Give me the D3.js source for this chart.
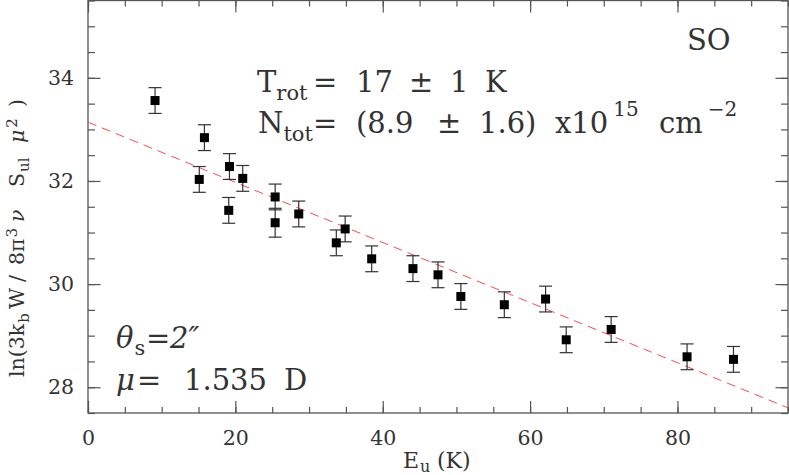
<!DOCTYPE html>
<html>
<head>
<meta charset="utf-8">
<script src="https://cdn.jsdelivr.net/npm/d3@7"></script>
<style>
  html, body { margin: 0; padding: 0; background: #fff; }
  svg text { font-family: "DejaVu Serif", "Liberation Serif", serif; fill: #333; }
</style>
</head>
<body>
<svg id="chart" width="789" height="475"></svg>
<script>
// rotation diagram, SO
const energy  = [9.1, 15.8, 15.1, 19.2, 21.0, 25.4, 19.1, 25.4, 28.6, 33.7, 34.9,
                 38.5, 44.1, 47.5, 50.6, 56.5, 62.1, 64.9, 71.0, 81.3, 87.6];
const lnValue = [33.56, 32.84, 32.03, 32.28, 32.05, 31.69, 31.43, 31.19, 31.36, 30.80, 31.07,
                 30.49, 30.30, 30.18, 29.76, 29.60, 29.71, 28.92, 29.12, 28.59, 28.54];
const lnError = [0.25, 0.25, 0.25, 0.25, 0.25, 0.25, 0.25, 0.28, 0.25, 0.25, 0.25,
                 0.25, 0.25, 0.25, 0.25, 0.25, 0.25, 0.25, 0.25, 0.25, 0.25];
const fitE    = [0, 95];
const fitLn   = [33.14, 27.60];
const xTicks  = [0, 20, 40, 60, 80];
const yTicks  = [28, 30, 32, 34];

const margin = { top: 0.5, right: 1, bottom: 62, left: 88 };
const width = 789, height = 475;

const svg = d3.select("#chart");

const x = d3.scaleLinear().domain([0, 95]).range([margin.left, width - margin.right]);
const y = d3.scaleLinear().domain([27.5, 35.5]).range([height - margin.bottom, margin.top]);

const axisColor = "#555";
const fs = 20.5;

function styleAxis(g) {
  g.select(".domain").remove();
  g.selectAll("line").attr("stroke", axisColor).attr("stroke-width", 1.2);
  g.selectAll("text").style("font-size", fs + "px").attr("fill", "#333");
}

const xMinor = d3.range(0, 96, 5);
const yMinor = d3.range(27.5, 35.51, 0.5);

// bottom
svg.append("g").attr("transform", `translate(0,${y(27.5)})`)
  .call(d3.axisBottom(x).tickValues(xMinor).tickSize(-6).tickFormat("")).call(styleAxis);
svg.append("g").attr("transform", `translate(0,${y(27.5)})`)
  .call(d3.axisBottom(x).tickValues(xTicks).tickSize(-12).tickPadding(17.5).tickFormat(d3.format("d")))
  .call(styleAxis);
// top
svg.append("g").attr("transform", `translate(0,${y(35.5)})`)
  .call(d3.axisTop(x).tickValues(xMinor).tickSize(-6).tickFormat("")).call(styleAxis);
svg.append("g").attr("transform", `translate(0,${y(35.5)})`)
  .call(d3.axisTop(x).tickValues(xTicks).tickSize(-12).tickFormat("")).call(styleAxis);
// left
svg.append("g").attr("transform", `translate(${x(0)},0)`)
  .call(d3.axisLeft(y).tickValues(yMinor).tickSize(-7).tickFormat("")).call(styleAxis);
svg.append("g").attr("transform", `translate(${x(0)},0)`)
  .call(d3.axisLeft(y).tickValues(yTicks).tickSize(-12.5).tickPadding(14).tickFormat(d3.format("d")))
  .call(styleAxis);
// right
svg.append("g").attr("transform", `translate(${x(95)},0)`)
  .call(d3.axisRight(y).tickValues(yMinor).tickSize(-7).tickFormat("")).call(styleAxis);
svg.append("g").attr("transform", `translate(${x(95)},0)`)
  .call(d3.axisRight(y).tickValues(yTicks).tickSize(-12.5).tickFormat("")).call(styleAxis);

// frame
svg.append("rect")
  .attr("x", x(0)).attr("y", y(35.5))
  .attr("width", x(95) - x(0)).attr("height", y(27.5) - y(35.5))
  .attr("fill", "none").attr("stroke", axisColor).attr("stroke-width", 1.3);

// fit line
svg.append("line")
  .attr("x1", x(fitE[0])).attr("y1", y(fitLn[0]))
  .attr("x2", x(fitE[1])).attr("y2", y(fitLn[1]))
  .attr("stroke", "#ff4a4a").attr("stroke-width", 1)
  .attr("stroke-dasharray", "9,6");

// points with error bars
const pts = energy.map((e, i) => ({ e: e, v: lnValue[i], err: lnError[i] }));
const cap = 6.5, sq = 9;
const bars = svg.append("g").attr("stroke", "#333").attr("stroke-width", 1.2);
pts.forEach(d => {
  bars.append("line").attr("x1", x(d.e)).attr("x2", x(d.e))
    .attr("y1", y(d.v - d.err)).attr("y2", y(d.v + d.err));
  bars.append("line").attr("x1", x(d.e) - cap).attr("x2", x(d.e) + cap)
    .attr("y1", y(d.v - d.err)).attr("y2", y(d.v - d.err));
  bars.append("line").attr("x1", x(d.e) - cap).attr("x2", x(d.e) + cap)
    .attr("y1", y(d.v + d.err)).attr("y2", y(d.v + d.err));
});
svg.append("g").selectAll("rect").data(pts).enter()
  .append("rect")
  .attr("x", d => x(d.e) - sq / 2).attr("y", d => y(d.v) - sq / 2)
  .attr("width", sq).attr("height", sq)
  .attr("fill", "#000");

// helper: text pieces {t, x (absolute) or dx (after previous), y shift, size, italic}
function pieces(g, list) {
  list.forEach(p => {
    const ts = g.append("tspan")
      .attr("y", p.y || 0)
      .style("font-size", p.s + "px")
      .style("font-style", p.i ? "italic" : "normal")
      .text(p.t);
    if (p.x != null) ts.attr("x", p.x);
    if (p.dx) ts.attr("dx", p.dx);
  });
}

// axis labels
const xl = svg.append("g").attr("transform", "translate(0,468)").append("text");
pieces(xl, [{ t: "E", x: 403, s: 22 }, { t: "u", y: 3.5, s: 16, dx: 1 }, { t: "(K)", x: 437, s: 22 }]);

const yl = svg.append("g").attr("transform", "translate(23.5,377) rotate(-90)").append("text");
pieces(yl, [
  { t: "ln(3k", x: 0, s: 20.5 }, { t: "b", y: 5, s: 15, dx: 1 }, { t: "W", x: 68, s: 20.5 },
  { t: "/", x: 95, s: 20.5 }, { t: "8π", x: 112, s: 20.5 }, { t: "3", y: -7, s: 15, dx: 1 },
  { t: "ν", x: 155, s: 20.5, i: true }, { t: "S", x: 190, s: 20.5 }, { t: "ul", y: 5, s: 15, dx: 1 },
  { t: "μ", x: 234, s: 20.5, i: true }, { t: "2", y: -7, s: 15, dx: 2 }, { t: ")", x: 270, s: 20.5 }
]);

// annotations
const big = 29, small = 21, sup = 20;
svg.append("text").attr("x", 687).attr("y", 50).style("font-size", big + "px").text("SO");

const t1 = svg.append("g").attr("transform", "translate(0,92)").append("text");
pieces(t1, [
  { t: "T", x: 257, s: big }, { t: "rot", y: 8, s: small }, { t: "=", x: 313, s: big },
  { t: "17", x: 356, s: big }, { t: "±", x: 409, s: big }, { t: "1", x: 450, s: big },
  { t: "K", x: 485, s: big }
]);

const t2 = svg.append("g").attr("transform", "translate(0,133)").append("text");
pieces(t2, [
  { t: "N", x: 258, s: big }, { t: "tot", y: 8, s: small }, { t: "=", x: 313, s: big },
  { t: "(8.9", x: 356, s: big }, { t: "±", x: 437, s: big }, { t: "1.6)", x: 479, s: big },
  { t: "x10", x: 555, s: big }, { t: "15", y: -17, s: sup, dx: 5 },
  { t: "cm", x: 659, s: big }, { t: "−2", y: -17, s: sup, dx: 5 }
]);

const t3 = svg.append("g").attr("transform", "translate(0,348)").append("text");
pieces(t3, [
  { t: "θ", x: 116, s: big, i: true }, { t: "s", y: 7, s: small, dx: 1 },
  { t: "=", x: 146, s: big }, { t: "2″", x: 170, s: big, i: true }
]);

const t4 = svg.append("g").attr("transform", "translate(0,390)").append("text");
pieces(t4, [
  { t: "μ", x: 116, s: big, i: true }, { t: "=", x: 137, s: big },
  { t: "1.535", x: 184, s: big }, { t: "D", x: 284, s: big }
]);
</script>
</body>
</html>
